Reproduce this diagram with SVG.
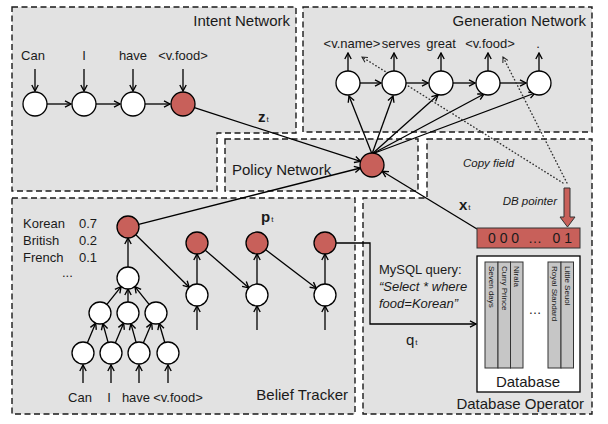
<svg xmlns="http://www.w3.org/2000/svg" width="608" height="424" viewBox="0 0 608 424">
<defs>
<marker id="arr" viewBox="0 0 10 10" refX="9" refY="5" markerWidth="8" markerHeight="8" markerUnits="userSpaceOnUse" orient="auto">
<path d="M1.5,1 L9,5 L1.5,9" fill="none" stroke="#000" stroke-width="1.7"/>
</marker>
<marker id="arrd" viewBox="0 0 10 10" refX="9" refY="5" markerWidth="7" markerHeight="7" markerUnits="userSpaceOnUse" orient="auto">
<path d="M1.5,1 L9,5 L1.5,9" fill="none" stroke="#222" stroke-width="1.5"/>
</marker>
</defs>
<style>
.panel{fill:#e2e2e2;stroke:#1a1a1a;stroke-width:1.4;stroke-dasharray:6 3.5}
.w{fill:#fff;stroke:#000;stroke-width:1.3}
.r{fill:#c8605a;stroke:#000;stroke-width:1.3}
.c{fill:none;stroke:#000;stroke-width:1.3;marker-end:url(#arr)}
.d{fill:none;stroke:#333;stroke-width:1.4;stroke-dasharray:0.5 3;stroke-linecap:round;marker-end:url(#arrd)}
.col{fill:#c6c6c6;stroke:#333;stroke-width:1}
text{font-family:"Liberation Sans",Arial,sans-serif;fill:#1a1a1a}
.t{font-size:15px}
.s{font-size:13px}
.m{text-anchor:middle}
.e{text-anchor:end}
.i{font-style:italic}
.b{font-weight:bold;font-size:15px}
.sub{font-size:8px;font-weight:normal}
.v{font-size:8px}
</style>

<g id="panels">
<path class="panel" d="M12,7 H296 V133 H217 V191 H12 Z"/>
<rect class="panel" x="303" y="7" width="289" height="125"/>
<rect class="panel" x="225" y="139" width="193" height="52"/>
<rect class="panel" x="12" y="198" width="343" height="216"/>
<path class="panel" d="M427,139 H592 V414 H363 V198 H427 Z"/>
</g>

<g id="labels">
<text class="t e" x="290" y="26">Intent Network</text>
<text class="t e" x="586" y="26">Generation Network</text>
<text class="t" x="232" y="175">Policy Network</text>
<text class="t e" x="348" y="400">Belief Tracker</text>
<text class="t e" x="584" y="409">Database Operator</text>
<text class="b" x="258" y="122">z<tspan class="sub" dx="1">t</tspan></text>
<text class="b" x="261" y="222">p<tspan class="sub" dx="1">t</tspan></text>
<text class="b" x="459" y="210">x<tspan class="sub" dx="1">t</tspan></text>
<text class="t" x="406" y="345">q<tspan class="sub" dx="1">t</tspan></text>
<text class="i" style="font-size:11.5px" x="463" y="167">Copy field</text>
<text class="i e" style="font-size:11.5px" x="557" y="205">DB pointer</text>
<text style="font-size:13px" x="379" y="274">MySQL query:</text>
<text style="font-size:13px" class="i" x="379" y="291">“Select * where</text>
<text style="font-size:13px" class="i" x="379" y="308">food=Korean”</text>
</g>

<g id="intent-words">
<text class="s m" x="33" y="60">Can</text>
<text class="s m" x="84" y="60">I</text>
<text class="s m" x="133" y="60">have</text>
<text class="s m" x="183" y="60">&lt;v.food&gt;</text>
</g>
<g id="gen-words">
<text class="s m" x="352" y="48">&lt;v.name&gt;</text>
<text class="s m" x="401" y="48">serves</text>
<text class="s m" x="441" y="48">great</text>
<text class="s m" x="490" y="48">&lt;v.food&gt;</text>
<text class="s m" x="538" y="48">.</text>
</g>
<g id="belief-words">
<text class="s" x="23" y="228">Korean</text><text class="s" x="79" y="228">0.7</text>
<text class="s" x="23" y="245">British</text><text class="s" x="79" y="245">0.2</text>
<text class="s" x="23" y="262">French</text><text class="s" x="79" y="262">0.1</text>
<text class="s" x="62" y="277">...</text>
<text class="s m" x="80" y="402">Can</text>
<text class="s m" x="109" y="402">I</text>
<text class="s m" x="136" y="402">have</text>
<text class="s m" x="178" y="402">&lt;v.food&gt;</text>
</g>

<g id="connectors">
<path class="c" d="M35,69 V91"/><path class="c" d="M84,69 V91"/><path class="c" d="M133,69 V91"/><path class="c" d="M183,69 V91"/>
<path class="c" d="M47,104 H71"/><path class="c" d="M96,104 H120"/><path class="c" d="M145,104 H170"/>
<path class="c" d="M194.4,107.7 L360.6,161.3"/>
<path class="c" d="M348,71 V53"/><path class="c" d="M394,71 V53"/><path class="c" d="M441,71 V53"/><path class="c" d="M488,71 V53"/><path class="c" d="M539,71 V53"/>
<path class="c" d="M360,83 H381"/><path class="c" d="M406,83 H428"/><path class="c" d="M453,83 H475"/><path class="c" d="M500,83 H526"/>
<path class="c" d="M372,154 L349,96"/><path class="c" d="M372,154 L393,96"/><path class="c" d="M372,154 L438,95"/><path class="c" d="M372,154 L484,94"/><path class="c" d="M372,154 L535,93"/>
<path class="d" d="M563,183 L362,57"/>
<path class="d" d="M567,183 L503,57"/>
<path class="c" d="M83,383 V365"/><path class="c" d="M111,383 V365"/><path class="c" d="M139,383 V365"/><path class="c" d="M168,383 V365"/>
<path class="c" d="M87.3,342.9 L95.7,323.1"/><path class="c" d="M108.1,342.4 L102.9,323.6"/>
<path class="c" d="M115.3,342.9 L123.7,323.1"/><path class="c" d="M136.1,342.4 L130.9,323.6"/>
<path class="c" d="M143.3,342.9 L151.7,323.1"/><path class="c" d="M164.8,342.5 L159.2,323.5"/>
<path class="c" d="M106.9,304.4 L121.1,286.6"/><path class="c" d="M128,302 V289"/><path class="c" d="M149.1,304.4 L134.9,286.6"/>
<path class="c" d="M128,267 V238"/>
<path class="c" d="M197,330 V306"/><path class="c" d="M257,330 V306"/><path class="c" d="M325,330 V306"/>
<path class="c" d="M197,284 V254"/><path class="c" d="M257,284 V254"/><path class="c" d="M325,284 V254"/>
<path class="c" d="M135.8,234.7 L189.2,287.3"/><path class="c" d="M205.3,250.2 L248.7,287.8"/><path class="c" d="M265.7,249.7 L316.3,288.3"/>
<path class="c" d="M138.7,224.3 L360.4,168"/>
<path class="c" d="M336,243 H370 V324 H476"/>
<path class="c" d="M477,229 L382.2,171.2"/>
</g>

<g id="intent-nodes">
<circle class="w" cx="35" cy="104" r="12"/><circle class="w" cx="84" cy="104" r="12"/><circle class="w" cx="133" cy="104" r="12"/><circle class="r" cx="183" cy="104" r="12"/>
</g>
<g id="gen-nodes">
<circle class="w" cx="348" cy="83" r="12"/><circle class="w" cx="394" cy="83" r="12"/><circle class="w" cx="441" cy="83" r="12"/><circle class="w" cx="488" cy="83" r="12"/><circle class="w" cx="539" cy="83" r="12"/>
</g>
<g id="policy-node">
<circle class="r" cx="372" cy="165" r="12"/>
</g>
<g id="belief-nodes">
<circle class="w" cx="83" cy="353" r="11"/><circle class="w" cx="111" cy="353" r="11"/><circle class="w" cx="139" cy="353" r="11"/><circle class="w" cx="168" cy="353" r="11"/>
<circle class="w" cx="100" cy="313" r="11"/><circle class="w" cx="128" cy="313" r="11"/><circle class="w" cx="156" cy="313" r="11"/>
<circle class="w" cx="128" cy="278" r="11"/>
<circle class="r" cx="128" cy="227" r="11"/>
<circle class="w" cx="197" cy="295" r="11"/><circle class="w" cx="257" cy="295" r="11"/><circle class="w" cx="325" cy="295" r="11"/>
<circle class="r" cx="197" cy="243" r="11"/><circle class="r" cx="257" cy="243" r="11"/><circle class="r" cx="325" cy="243" r="11"/>
</g>

<g id="db-pointer">
<path d="M564,188 H570 V217 H575 L567.5,227 L560,217 H564 Z" fill="#c8605a" stroke="#333" stroke-width="1"/>
<rect x="477" y="228" width="103" height="20" fill="#c8605a" stroke="#333" stroke-width="1"/>
<text style="font-size:14px" x="488" y="243">0 0 0</text>
<text style="font-size:14px" class="m" x="535" y="243">…</text>
<text style="font-size:14px" class="e" x="572" y="243">0 1</text>
</g>

<g id="database">
<rect x="477" y="256" width="103" height="136" fill="#fff" stroke="#000" stroke-width="1.3"/>
<rect class="col" x="485" y="262" width="13" height="106"/>
<rect class="col" x="498" y="262" width="12.5" height="106"/>
<rect class="col" x="510.5" y="262" width="12.5" height="106"/>
<rect class="col" x="548" y="262" width="13" height="106"/>
<rect class="col" x="561" y="262" width="12.5" height="106"/>
<text class="v" transform="translate(488.5,266) rotate(90)">Seven days</text>
<text class="v" transform="translate(501.5,266) rotate(90)">Curry Prince</text>
<text class="v" transform="translate(514,266) rotate(90)">Nirala</text>
<text class="v" transform="translate(551.5,266) rotate(90)">Royal Standard</text>
<text class="v" transform="translate(564.5,266) rotate(90)">Little Seuol</text>
<text class="s m" x="535" y="314">…</text>
<text class="m" style="font-size:15px" x="528" y="387">Database</text>
</g>
</svg>
